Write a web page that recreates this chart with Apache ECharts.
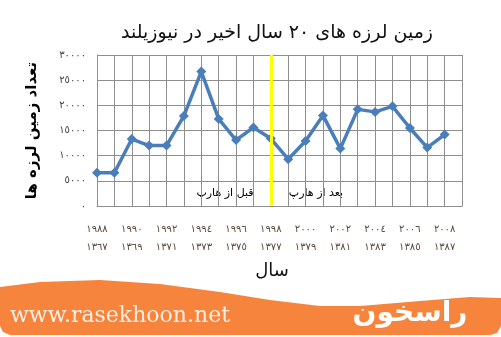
<!DOCTYPE html>
<html><head><meta charset="utf-8">
<script src="https://cdn.jsdelivr.net/npm/echarts@6/dist/echarts.min.js"></script>
<style>html,body{margin:0;padding:0;background:#fff}#c{width:501px;height:337px}</style>
</head><body><div id="c"></div>
<script>
const gregorianYears = ['1988','1989','1990','1991','1992','1993','1994','1995','1996','1997','1998','1999','2000','2001','2002','2003','2004','2005','2006','2007','2008'];
const solarYears = ['1367','1368','1369','1370','1371','1372','1373','1374','1375','1376','1377','1378','1379','1380','1381','1382','1383','1384','1385','1386','1387'];
const quakeCounts = [6600, 6600, 13300, 12000, 12000, 17900, 26700, 17300, 13100, 15600, 13400, 9300, 12900, 18000, 11400, 19200, 18700, 19800, 15500, 11600, 14200];
const haarpYear = '1998';
const yTicks = [0, 5000, 10000, 15000, 20000, 25000, 30000];

const titleText = 'زمین لرزه های ۲۰ سال اخیر در نیوزیلند';
const yName = 'تعداد زمین لرزه ها';
const xName = 'سال';
const beforeText = 'قبل از هارپ';
const afterText = 'بعد از هارپ';

const AR = '٠١٢٣٤٥٦٧٨٩';
const toAr = s => String(s).replace(/[0-9]/g, d => AR[+d]);

const categories = gregorianYears.concat(['']);
const solarMap = {};
gregorianYears.forEach((y, i) => solarMap[y] = solarYears[i]);

const chart = echarts.init(document.getElementById('c'), null, {renderer: 'canvas'});
const gridColor = '#8e8e8e';
chart.setOption({
  animation: false,
  backgroundColor: '#fff',
  title: {
    text: titleText, left: 116, top: 19,
    textStyle: {fontFamily: 'DejaVu Sans', fontSize: 19, fontWeight: 'normal', color: '#111'}
  },
  grid: {left: 97, right: 39, top: 55, bottom: 131, containLabel: false},
  xAxis: {
    type: 'category', data: categories, boundaryGap: false,
    axisLine: {lineStyle: {color: gridColor, width: 1}},
    axisTick: {show: false},
    axisLabel: {
      interval: 1, margin: 14, lineHeight: 18,
      fontFamily: 'DejaVu Sans', fontSize: 10, color: '#5b4a3a',
      formatter: v => v ? toAr(v) + '\n' + toAr(solarMap[v]) : ''
    },
    splitLine: {show: true, interval: 0, lineStyle: {color: gridColor, width: 1}},
    name: xName, nameLocation: 'middle', nameGap: 56,
    nameTextStyle: {fontFamily: 'DejaVu Sans', fontSize: 18, color: '#111', padding: [0, 15, 0, 0]}
  },
  yAxis: {
    type: 'value', min: yTicks[0], max: yTicks[yTicks.length - 1], interval: yTicks[1] - yTicks[0],
    axisLine: {show: true, lineStyle: {color: gridColor, width: 1}},
    axisTick: {show: false},
    axisLabel: {margin: 11, fontFamily: 'DejaVu Sans', fontSize: 10, color: '#444', formatter: v => toAr(v)},
    splitLine: {show: true, lineStyle: {color: gridColor, width: 1}},
    name: yName, nameLocation: 'middle', nameRotate: 90, nameGap: 57,
    nameTextStyle: {fontFamily: 'DejaVu Sans', fontSize: 15, fontWeight: 'bold', color: '#000'}
  },
  series: [{
    type: 'line', data: quakeCounts,
    symbol: 'diamond', symbolSize: 10,
    lineStyle: {color: '#4a7ebb', width: 3.5},
    itemStyle: {color: '#4a7ebb'},
    markLine: {
      silent: true, symbol: 'none', label: {show: false},
      lineStyle: {color: '#ffff00', width: 3, type: 'solid'},
      data: [{xAxis: haarpYear}]
    },
    z: 3
  }],
  graphic: [
    {type: 'text', style: {x: 225, y: 193, text: beforeText, fontFamily: 'DejaVu Sans', fontSize: 11, fill: '#000', align: 'center', verticalAlign: 'middle'}},
    {type: 'text', style: {x: 316, y: 193, text: afterText, fontFamily: 'DejaVu Sans', fontSize: 11, fill: '#000', align: 'center', verticalAlign: 'middle'}},
    {type: 'polygon', z: -1,
      shape: {points: [[0,287],[40,282],[100,280],[160,284],[220,292],[270,300],[320,306],[360,306],[420,301],[470,297],[501,298],[501,326],[497,333],[490,335],[10,335],[3,332],[0,326]]},
      style: {fill: '#f7843c'}},
    {type: 'text', style: {x: 10, y: 316, text: 'www.rasekhoon.net', fontFamily: 'DejaVu Serif', fontSize: 22, fill: '#fdeee4', verticalAlign: 'middle'}},
    {type: 'text', style: {x: 410, y: 314, text: 'راسخون', fontFamily: 'DejaVu Sans', fontSize: 28, fontWeight: 'bold', fill: '#fff', align: 'center', verticalAlign: 'middle'}}
  ]
});
</script></body></html>
